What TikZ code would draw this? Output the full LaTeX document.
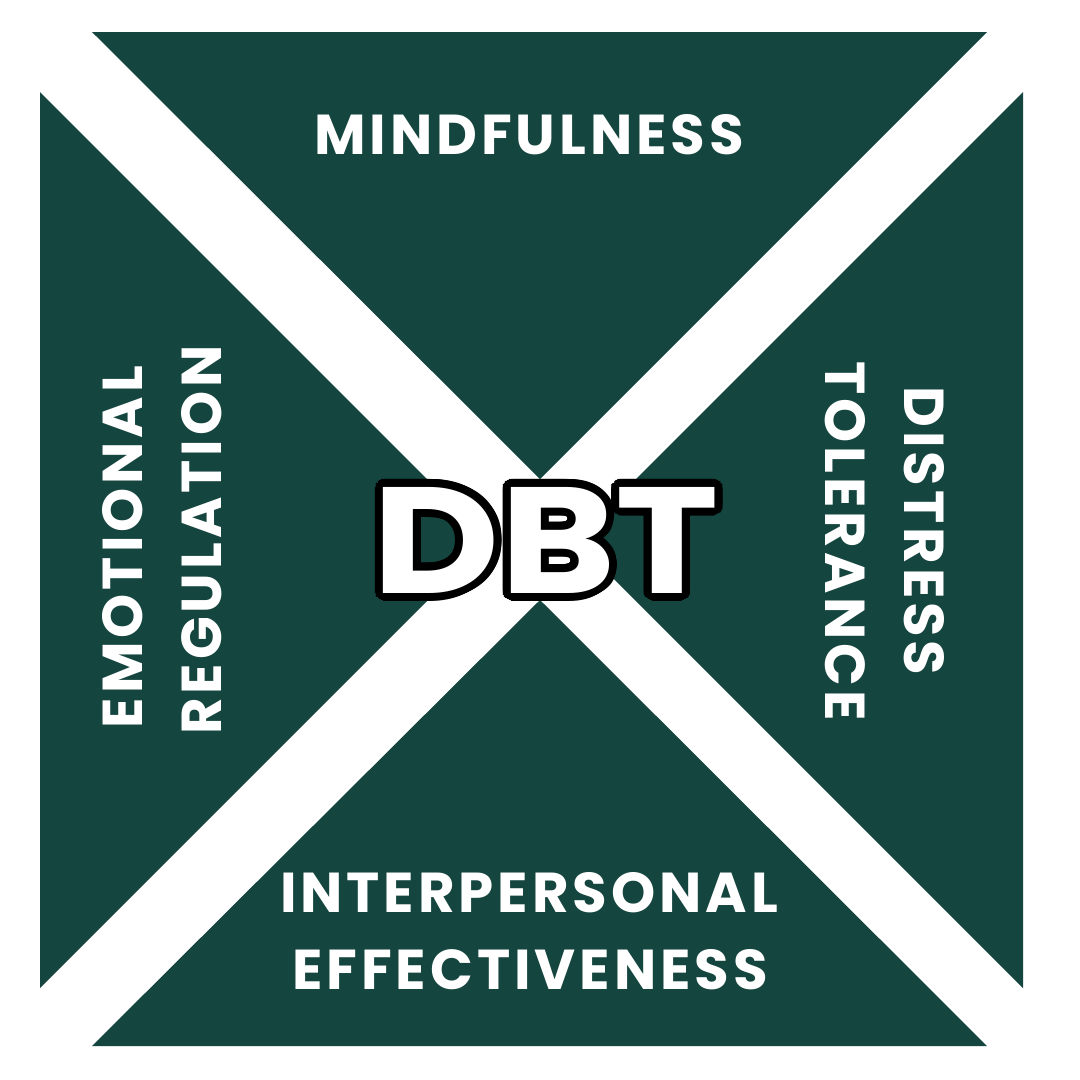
\documentclass[tikz,border=0pt]{standalone}
\usepackage{fontspec}
\setmainfont{Poppins}
\newfontfamily\skillfont{Poppins}[LetterSpace=7]
\usetikzlibrary{calc}
\definecolor{dbtgreen}{HTML}{15453F}

\begin{document}
\begin{tikzpicture}[x=0.02cm,y=-0.02cm,
                    quad/.style={fill=dbtgreen},
                    skill node/.style={text=white,inner sep=0pt,font=\skillfont\fontsize{32}{38}\selectfont\bfseries},
                    dbt node/.style={inner sep=0pt,xscale=1.16,font=\fontsize{86}{90}\selectfont\bfseries}]

                  \useasboundingbox[fill=white] (0,0) rectangle (1080,1080);

                  % the four skill areas
                  \fill[quad] (92,32) -- (987,32) -- (540,479) -- cycle;
                  \fill[quad] (40,92) -- (40,988) -- (488,540) -- cycle;
                  \fill[quad] (1023,92) -- (1023,988) -- (575,540) -- cycle;
                  \fill[quad] (92,1046) -- (987,1046) -- (540,600) -- cycle;

                  \node[skill node] (mind) at (529,135) {MINDFULNESS};
                  \node[skill node,rotate=90] (emo) at (123,547) {EMOTIONAL};
                  \node[skill node,rotate=90] (reg) at (202,540) {REGULATION};
                  \node[skill node,rotate=-90] (dis) at (924,531) {DISTRESS};
                  \node[skill node,rotate=-90] (tol) at (845,541) {TOLERANCE};
                  \node[skill node] (inter) at (529,893) {INTERPERSONAL};
                  \node[skill node] (eff) at (530,970) {EFFECTIVENESS};

                  % outlined title
                  \coordinate (c) at (546,540);
                  \foreach \a in {0,15,...,345}
                    \node[dbt node,text=black] (dbt-\a) at ($(c)+(\a:8)$) {DBT};
                  \node[dbt node,text=white] (dbt) at (c) {DBT};
                \end{tikzpicture}
\end{document}
